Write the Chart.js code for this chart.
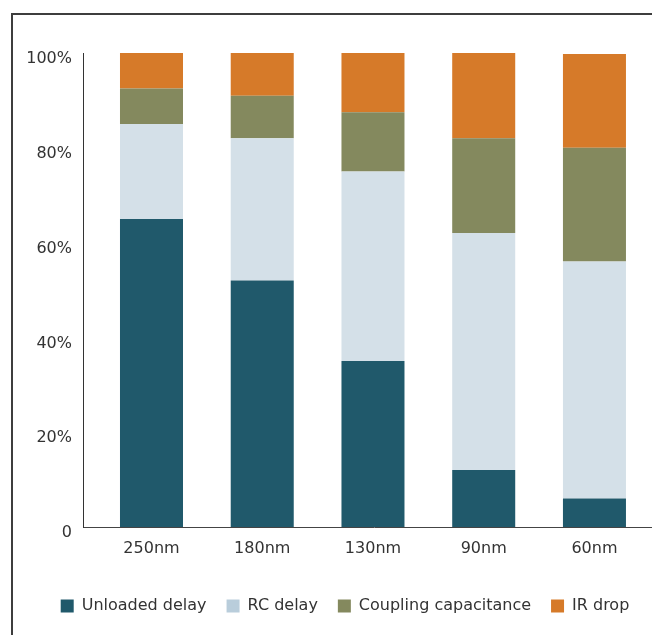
<!DOCTYPE html>
<html>
<head>
<meta charset="utf-8">
<script src="https://cdn.jsdelivr.net/npm/chart.js@4.4.1/dist/chart.umd.min.js"></script>
<style>
  html, body { margin: 0; padding: 0; background: #fff; overflow: hidden; width: 652px; height: 635px; }
  #frame { position: absolute; left: 11px; top: 13px; width: 700px; height: 700px;
           border-top: 2px solid #3d3d3d; border-left: 2px solid #3d3d3d; }
  #wrap { position: absolute; left: 0; top: 0; width: 665px; height: 624px; }
</style>
</head>
<body>
<div id="frame"></div>
<div id="wrap"><canvas id="c" width="665" height="624"></canvas></div>
<script>
// Process nodes and the share of each delay component (percent of total)
const categories = ['250nm', '180nm', '130nm', '90nm', '60nm'];
const seriesNames = ['Unloaded delay', 'RC delay', 'Coupling capacitance', 'IR drop'];
const unloadedDelay = [65, 52, 35, 12, 6];
const rcDelay = [20, 30, 40, 50, 50];
const couplingCapacitance = [7.5, 9, 12.5, 20, 24];
const irDrop = [7.5, 9, 12.5, 18, 19.8];
const yTickValues = [0, 20, 40, 60, 80, 100];
const yTickLabels = ['0', '20%', '40%', '60%', '80%', '100%'];

const barColors = ['#20596b', '#d4e0e8', '#84895e', '#d67a29'];
const swatchColors = ['#20596b', '#b9cddb', '#84895e', '#d67a29'];
const FONT = { family: "'DejaVu Sans', sans-serif", size: 16 };
const TEXT = '#333333';

const seriesValues = [unloadedDelay, rcDelay, couplingCapacitance, irDrop];

const datasets = seriesNames.map((name, s) => ({
  label: name,
  data: seriesValues[s].map((v, i) => ({ x: i, y: v })),
  backgroundColor: barColors[s],
  borderWidth: 0,
  barPercentage: 0.569,
  categoryPercentage: 1
}));

new Chart(document.getElementById('c'), {
  type: 'bar',
  data: { datasets },
  options: {
    responsive: false,
    animation: false,
    layout: { padding: { left: 25, right: 0, top: 53, bottom: 0 } },
    plugins: {
      tooltip: { enabled: false },
      legend: {
        position: 'bottom',
        labels: {
          boxWidth: 13,
          boxHeight: 13,
          padding: 20,
          color: TEXT,
          font: FONT,
          generateLabels(chart) {
            const items = Chart.defaults.plugins.legend.labels.generateLabels(chart);
            return items.map((it, k) => Object.assign(it, {
              fillStyle: swatchColors[k], strokeStyle: swatchColors[k], lineWidth: 0
            }));
          }
        }
      }
    },
    scales: {
      x: {
        type: 'linear',
        stacked: true,
        offset: false,
        min: -0.6185,
        max: 4.637,
        grid: { display: false, drawTicks: false, offset: false },
        border: { color: '#444', width: 1 },
        ticks: {
          padding: 12,
          color: TEXT,
          font: FONT,
          autoSkip: false,
          maxRotation: 0,
          callback: (v) => categories[v] ?? ''
        },
        afterBuildTicks(scale) { scale.ticks = categories.map((_, i) => ({ value: i })); },
        afterFit(scale) { scale.height = 51; }
      },
      y: {
        stacked: true,
        min: 0,
        max: 100,
        grid: { display: false, drawTicks: false },
        border: { color: '#333', width: 1 },
        ticks: {
          padding: 11,
          labelOffset: 6,
          color: TEXT,
          font: FONT,
          callback: (v) => yTickLabels[yTickValues.indexOf(v)]
        },
        afterBuildTicks(scale) { scale.ticks = yTickValues.map(v => ({ value: v })); },
        afterFit(scale) { scale.width = 58; }
      }
    }
  }
});
</script>
</body>
</html>
